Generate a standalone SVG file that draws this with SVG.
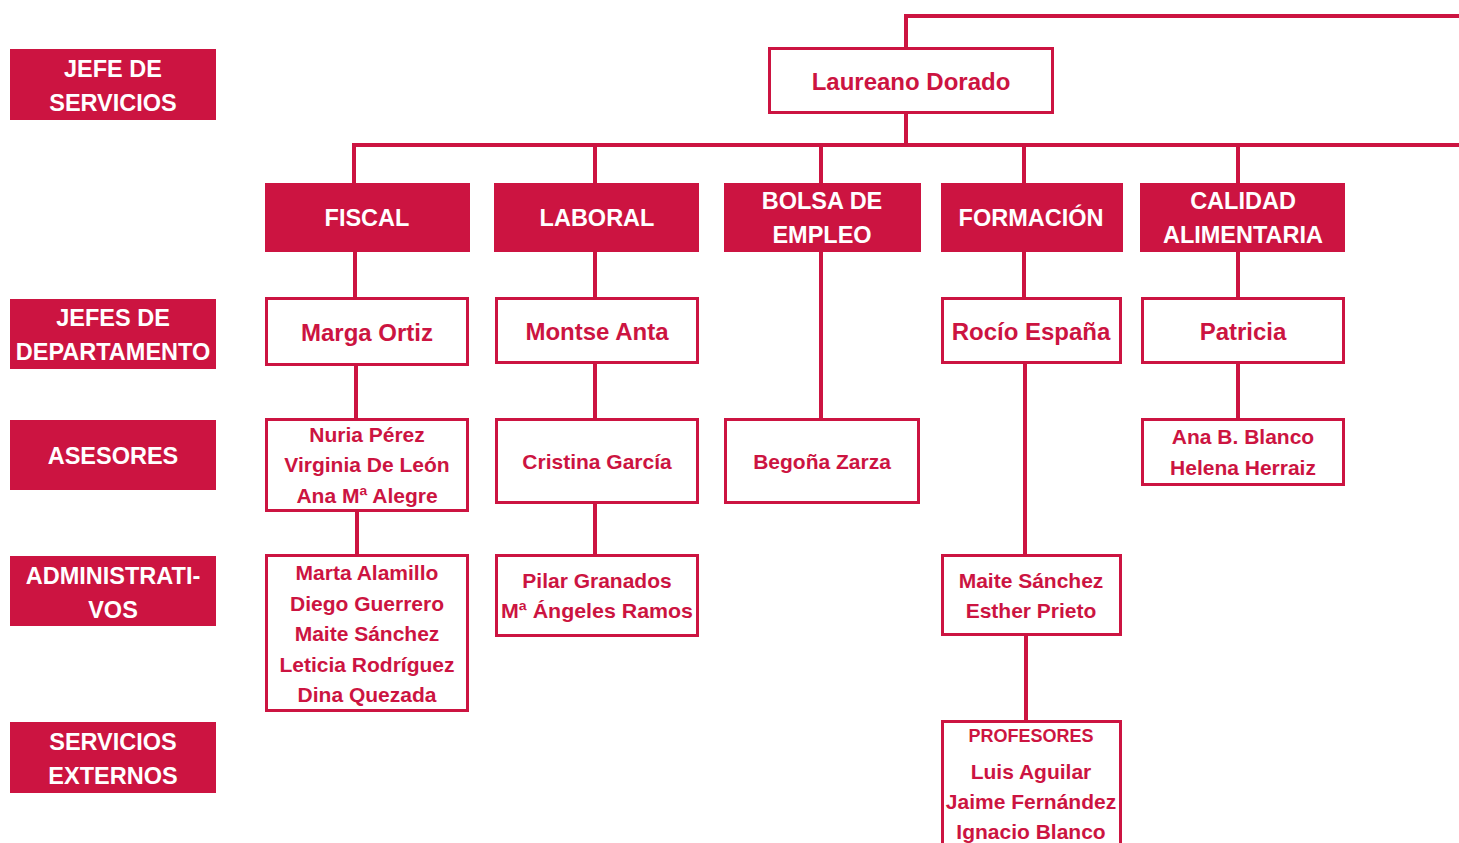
<svg xmlns="http://www.w3.org/2000/svg" width="1459" height="843" viewBox="0 0 1459 843">
<style>
.fill{fill:#cc1441;}
.box{fill:#fff;stroke:#cc1441;stroke-width:3;}
.lbl{font-family:"Liberation Sans",Arial,sans-serif;font-weight:bold;font-size:23.5px;fill:#fff;text-anchor:middle;}
.nm{font-family:"Liberation Sans",Arial,sans-serif;font-weight:bold;font-size:24px;fill:#cc1441;text-anchor:middle;}
.sm{font-family:"Liberation Sans",Arial,sans-serif;font-weight:bold;font-size:21px;fill:#cc1441;text-anchor:middle;}
.xs{font-family:"Liberation Sans",Arial,sans-serif;font-weight:bold;font-size:18px;fill:#cc1441;text-anchor:middle;}
.ln{stroke:#cc1441;stroke-width:4;fill:none;}
</style>
<rect width="1459" height="843" fill="#fff"/>
<g id="connectors">
<polyline class="ln" points="1459,16 906,16 906,47"/>
<line class="ln" x1="906" y1="113" x2="906" y2="145"/>
<line class="ln" x1="352" y1="145" x2="1459" y2="145"/>
<line class="ln" x1="354" y1="143" x2="354" y2="183"/>
<line class="ln" x1="595" y1="145" x2="595" y2="183"/>
<line class="ln" x1="821" y1="145" x2="821" y2="183"/>
<line class="ln" x1="1024" y1="145" x2="1024" y2="183"/>
<line class="ln" x1="1238" y1="145" x2="1238" y2="183"/>
<line class="ln" x1="355" y1="252" x2="355" y2="297"/>
<line class="ln" x1="356" y1="365" x2="356" y2="418"/>
<line class="ln" x1="357" y1="511" x2="357" y2="554"/>
<line class="ln" x1="595" y1="252" x2="595" y2="297"/>
<line class="ln" x1="595" y1="363" x2="595" y2="418"/>
<line class="ln" x1="595" y1="503" x2="595" y2="554"/>
<line class="ln" x1="821" y1="252" x2="821" y2="418"/>
<line class="ln" x1="1024" y1="252" x2="1024" y2="297"/>
<line class="ln" x1="1025" y1="363" x2="1025" y2="554"/>
<line class="ln" x1="1026" y1="635" x2="1026" y2="720"/>
<line class="ln" x1="1238" y1="252" x2="1238" y2="297"/>
<line class="ln" x1="1238" y1="363" x2="1238" y2="418"/>
</g>
<g id="lbl-jefe-servicios"><rect class="fill" x="10" y="49" width="206" height="71"/><text class="lbl" x="113" y="77">JEFE DE</text><text class="lbl" x="113" y="111">SERVICIOS</text></g>
<g id="lbl-jefes-departamento"><rect class="fill" x="10" y="299" width="206" height="70"/><text class="lbl" x="113" y="326">JEFES DE</text><text class="lbl" x="113" y="360">DEPARTAMENTO</text></g>
<g id="lbl-asesores"><rect class="fill" x="10" y="420" width="206" height="70"/><text class="lbl" x="113" y="464">ASESORES</text></g>
<g id="lbl-administrativos"><rect class="fill" x="10" y="556" width="206" height="70"/><text class="lbl" x="113" y="584">ADMINISTRATI-</text><text class="lbl" x="113" y="618">VOS</text></g>
<g id="lbl-servicios-externos"><rect class="fill" x="10" y="722" width="206" height="71"/><text class="lbl" x="113" y="750">SERVICIOS</text><text class="lbl" x="113" y="784">EXTERNOS</text></g>
<g id="laureano"><rect class="box" x="769.5" y="48.5" width="283" height="64"/><text class="nm" x="911" y="90">Laureano Dorado</text></g>
<g id="fiscal"><rect class="fill" x="265" y="183" width="205" height="69"/><text class="lbl" x="367" y="226">FISCAL</text></g>
<g id="laboral"><rect class="fill" x="494" y="183" width="205" height="69"/><text class="lbl" x="597" y="226">LABORAL</text></g>
<g id="bolsa"><rect class="fill" x="724" y="183" width="197" height="69"/><text class="lbl" x="822" y="209">BOLSA DE</text><text class="lbl" x="822" y="243">EMPLEO</text></g>
<g id="formacion"><rect class="fill" x="941" y="183" width="182" height="69"/><text class="lbl" x="1031" y="226">FORMACIÓN</text></g>
<g id="calidad"><rect class="fill" x="1140" y="183" width="205" height="69"/><text class="lbl" x="1243" y="209">CALIDAD</text><text class="lbl" x="1243" y="243">ALIMENTARIA</text></g>
<g id="marga"><rect class="box" x="266.5" y="298.5" width="201" height="66"/><text class="nm" x="367" y="341">Marga Ortiz</text></g>
<g id="montse"><rect class="box" x="496.5" y="298.5" width="201" height="64"/><text class="nm" x="597" y="340">Montse Anta</text></g>
<g id="rocio"><rect class="box" x="942.5" y="298.5" width="178" height="64"/><text class="nm" x="1031" y="340">Rocío España</text></g>
<g id="patricia"><rect class="box" x="1142.5" y="298.5" width="201" height="64"/><text class="nm" x="1243" y="340">Patricia</text></g>
<g id="nuria"><rect class="box" x="266.5" y="419.5" width="201" height="91"/><text class="sm" x="367" y="442">Nuria Pérez</text><text class="sm" x="367" y="472">Virginia De León</text><text class="sm" x="367" y="503">Ana Mª Alegre</text></g>
<g id="cristina"><rect class="box" x="496.5" y="419.5" width="201" height="83"/><text class="sm" x="597" y="469">Cristina García</text></g>
<g id="begona"><rect class="box" x="725.5" y="419.5" width="193" height="83"/><text class="sm" x="822" y="469">Begoña Zarza</text></g>
<g id="anab"><rect class="box" x="1142.5" y="419.5" width="201" height="65"/><text class="sm" x="1243" y="444">Ana B. Blanco</text><text class="sm" x="1243" y="475">Helena Herraiz</text></g>
<g id="marta"><rect class="box" x="266.5" y="555.5" width="201" height="155"/><text class="sm" x="367" y="580">Marta Alamillo</text><text class="sm" x="367" y="611">Diego Guerrero</text><text class="sm" x="367" y="641">Maite Sánchez</text><text class="sm" x="367" y="672">Leticia Rodríguez</text><text class="sm" x="367" y="702">Dina Quezada</text></g>
<g id="pilar"><rect class="box" x="496.5" y="555.5" width="201" height="80"/><text class="sm" x="597" y="588">Pilar Granados</text><text class="sm" x="597" y="618" textLength="192" lengthAdjust="spacingAndGlyphs">Mª Ángeles Ramos</text></g>
<g id="maite"><rect class="box" x="942.5" y="555.5" width="178" height="79"/><text class="sm" x="1031" y="588">Maite Sánchez</text><text class="sm" x="1031" y="618">Esther Prieto</text></g>
<g id="profesores"><rect class="box" x="942.5" y="721.5" width="178" height="140"/><text class="xs" x="1031" y="742">PROFESORES</text><text class="sm" x="1031" y="779">Luis Aguilar</text><text class="sm" x="1031" y="809">Jaime Fernández</text><text class="sm" x="1031" y="839">Ignacio Blanco</text></g>
</svg>
